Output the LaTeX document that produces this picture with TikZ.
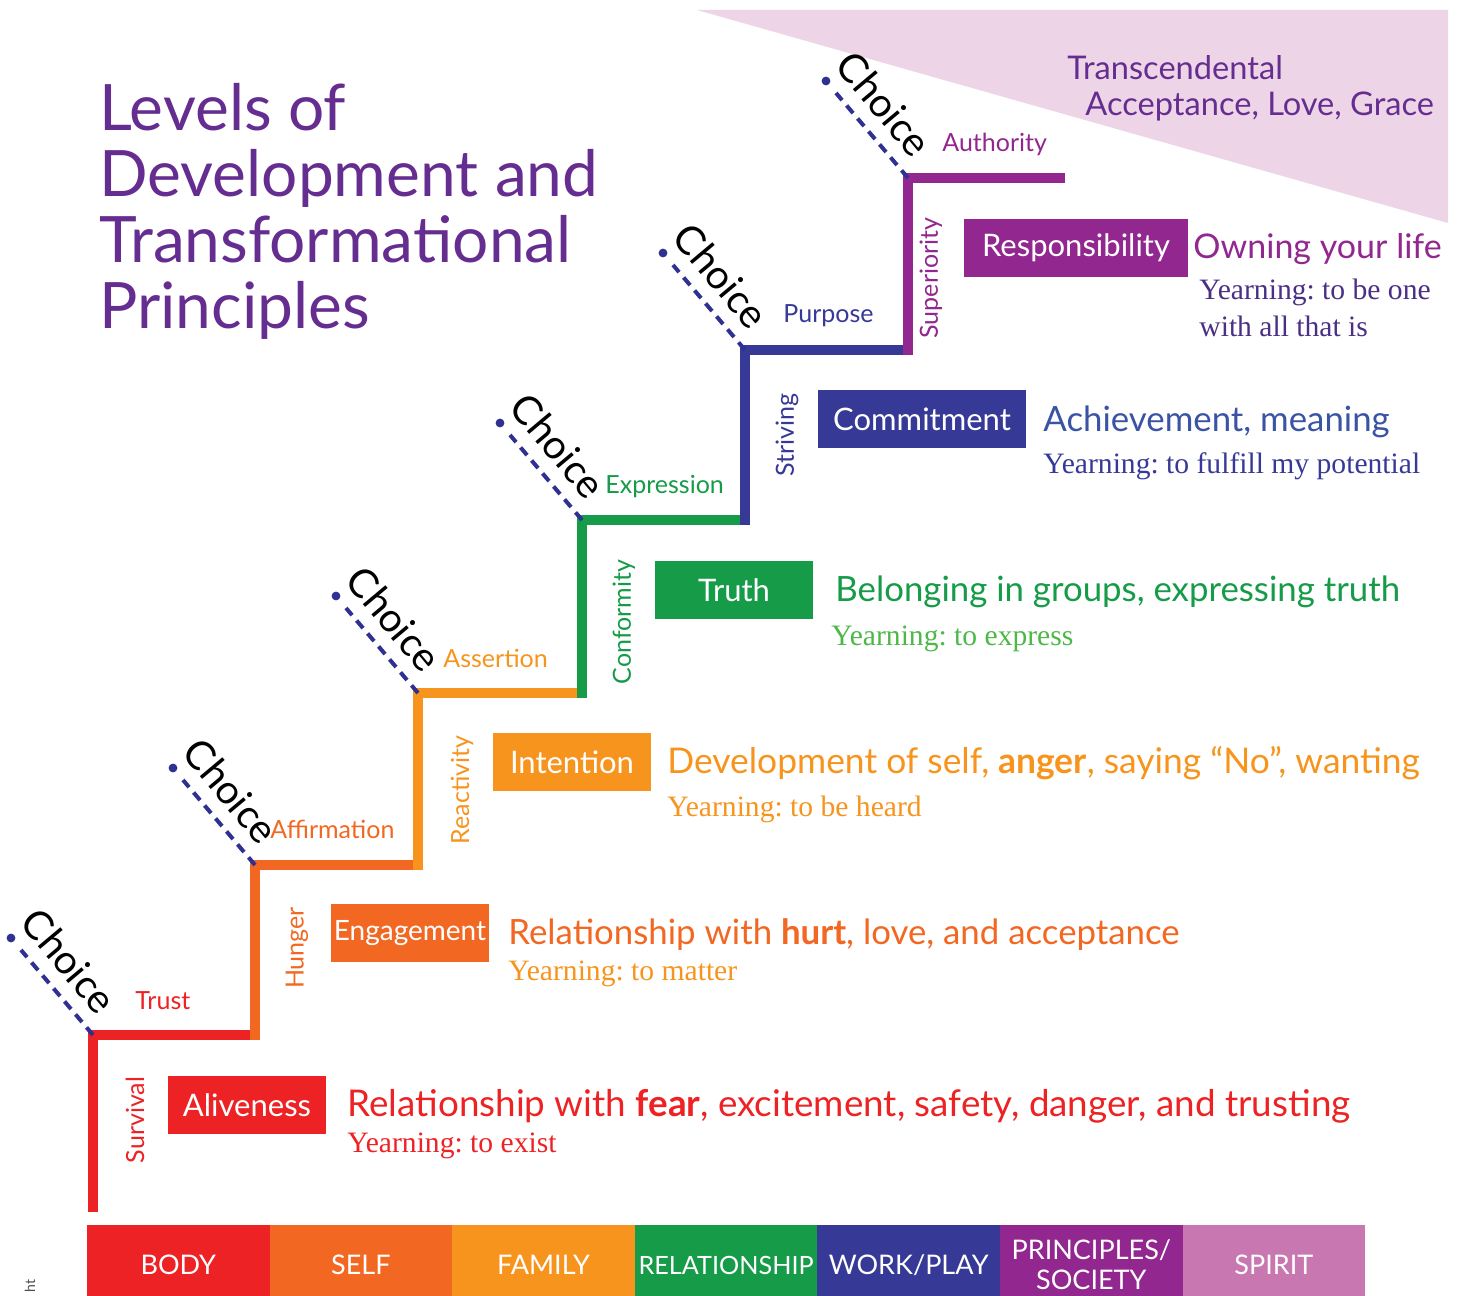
\documentclass[tikz,border=0pt]{standalone}
\usepackage{fontspec}
\setmainfont{Lato}
\newfontfamily\yearnfont{Liberation Serif}
\usetikzlibrary{positioning}

\definecolor{bodyred}{HTML}{ED2224}
\definecolor{selforange}{HTML}{F26722}
\definecolor{familyamber}{HTML}{F7941D}
\definecolor{relgreen}{HTML}{169B48}
\definecolor{yearngreen}{HTML}{4DB848}
\definecolor{worknavy}{HTML}{363996}
\definecolor{achieveblue}{HTML}{3A53A4}
\definecolor{princpurple}{HTML}{92278F}
\definecolor{spiritpink}{HTML}{C877B1}
\definecolor{gracepink}{HTML}{EDD5E7}
\definecolor{titlepurple}{HTML}{662D91}
\definecolor{yearnpurple}{HTML}{4B2F85}
\definecolor{choicenavy}{HTML}{2E3192}

\tikzset{
  stair/.style={line width=5pt, line cap=butt, line join=miter},
  titleline/.style={font=\fontsize{32}{34}\selectfont, text=titlepurple, anchor=base west, inner sep=0pt},
  gracetext/.style={font=\fontsize{16.3}{18}\selectfont, text=titlepurple, anchor=base west, inner sep=0pt},
  levellabel/.style={font=\fontsize{12.5}{14}\selectfont, anchor=west, inner sep=0pt},
  sidelabel/.style={font=\fontsize{12.5}{14}\selectfont, rotate=90, inner sep=0pt},
  stagebox/.style={fill=#1, text=white, minimum width=79pt, minimum height=29pt, inner sep=0pt, font=\fontsize{15.5}{18}\selectfont},
  desc/.style={font=\fontsize{17.4}{20}\selectfont, anchor=base west, inner sep=0pt},
  yearn/.style={font=\yearnfont\fontsize{14.8}{16}\selectfont\frenchspacing, anchor=base west, inner sep=0pt},
  choicetxt/.style={font=\fontsize{20}{24}\selectfont, rotate=-50, inner sep=0pt},
  choiceline/.style={draw=choicenavy, dash pattern=on 5pt off 3.5pt, line width=2pt},
  barcell/.style={fill=#1, text=white, text width=91.3pt, align=center, minimum height=40pt, inner sep=0pt, outer sep=0pt, font=\fontsize{13.5}{15}\selectfont}
}

\begin{document}
\begin{tikzpicture}[x=0.5pt, y=-0.5pt]

    \useasboundingbox (0,0) rectangle (1460,1295);

    % Transcendental wedge in the top right corner
    \fill[gracepink] (697,10) -- (1448,10) -- (1448,223) -- cycle;
    \node[gracetext] (trans) at (1067,80) {Transcendental};
    \node[gracetext] (grace) at (1085,115) {Acceptance, Love, Grace};

    % Title
    \node[titleline] (title1) at (99,130) {Levels of};
    \node[titleline] (title2) at (99,196) {Development and};
    \node[titleline] (title3) at (99,262) {Transformational};
    \node[titleline] (title4) at (99,328) {Principles};

    % Corners of the staircase
    \coordinate (c1) at (93,1035);
    \coordinate (c2) at (255,865);
    \coordinate (c3) at (418,693);
    \coordinate (c4) at (582,520);
    \coordinate (c5) at (745,350);
    \coordinate (c6) at (908,178);

    % Stairs, one colour per level
    \draw[stair, bodyred] (93,1212) -- (c1) -- (c2 |- c1);
    \draw[stair, selforange] (255,1040) -- (c2) -- (c3 |- c2);
    \draw[stair, familyamber] (418,870) -- (c3) -- (c4 |- c3);
    \draw[stair, relgreen] (582,698) -- (c4) -- (c5 |- c4);
    \draw[stair, worknavy] (745,525) -- (c5) -- (c6 |- c5);
    \draw[stair, princpurple] (908,355) -- (c6) -- (1065,178);

    % Choice markers at every corner
    \draw[choiceline] (c1) -- ++(-72,-85);
    \fill[choicenavy] (c1) ++(-82,-97) circle (2.2pt);
    \path (c1) ++(-24,-74) node[choicetxt] (choice1) {Choice};
    \draw[choiceline] (c2) -- ++(-72,-85);
    \fill[choicenavy] (c2) ++(-82,-97) circle (2.2pt);
    \path (c2) ++(-24,-74) node[choicetxt] (choice2) {Choice};
    \draw[choiceline] (c3) -- ++(-72,-85);
    \fill[choicenavy] (c3) ++(-82,-97) circle (2.2pt);
    \path (c3) ++(-24,-74) node[choicetxt] (choice3) {Choice};
    \draw[choiceline] (c4) -- ++(-72,-85);
    \fill[choicenavy] (c4) ++(-82,-97) circle (2.2pt);
    \path (c4) ++(-24,-74) node[choicetxt] (choice4) {Choice};
    \draw[choiceline] (c5) -- ++(-72,-85);
    \fill[choicenavy] (c5) ++(-82,-97) circle (2.2pt);
    \path (c5) ++(-24,-74) node[choicetxt] (choice5) {Choice};
    \draw[choiceline] (c6) -- ++(-72,-85);
    \fill[choicenavy] (c6) ++(-82,-97) circle (2.2pt);
    \path (c6) ++(-24,-74) node[choicetxt] (choice6) {Choice};

    % Labels on the treads
    \node[levellabel, text=bodyred] (trust) at (135,1001) {Trust};
    \node[levellabel, text=selforange] (affirm) at (270,829) {Affirmation};
    \node[levellabel, text=familyamber] (assert) at (443,658) {Assertion};
    \node[levellabel, text=relgreen] (express) at (605,487) {Expression};
    \node[levellabel, text=worknavy] (purpose) at (783,316) {Purpose};
    \node[levellabel, text=princpurple] (authority) at (942,144) {Authority};

    % Labels on the risers
    \node[sidelabel, text=bodyred] (survival) at (135,1120) {Survival};
    \node[sidelabel, text=selforange] (hunger) at (297,948) {Hunger};
    \node[sidelabel, text=familyamber] (react) at (462,790) {Reactivity};
    \node[sidelabel, text=relgreen] (conform) at (624,622) {Conformity};
    \node[sidelabel, text=worknavy] (striving) at (787,435) {Striving};
    \node[sidelabel, text=princpurple] (superior) at (931,278) {Superiority};

    % Principle boxes
    \node[stagebox=bodyred] (alive) at (247,1105) {Aliveness};
    \node[stagebox=selforange, font=\fontsize{14}{16}\selectfont] (engage) at (410,933) {Engagement};
    \node[stagebox=familyamber] (intent) at (572,762) {Intention};
    \node[stagebox=relgreen] (truth) at (734,590) {Truth};
    \node[stagebox=worknavy, minimum width=104pt] (commit) at (922,419) {Commitment};
    \node[stagebox=princpurple, minimum width=112pt] (respons) at (1076,248) {Responsibility};

    % What each level is about
    \node[desc, text=bodyred, font=\fontsize{18.4}{20}\selectfont] (fear) at (347,1116) {Relationship with \textbf{fear}, excitement, safety, danger, and trusting};
    \node[yearn, text=bodyred] (exist) at (347,1152) {Yearning: to exist};
    \node[desc, text=selforange] (hurt) at (508,944) {Relationship with \textbf{hurt}, love, and acceptance};
    \node[yearn, text=familyamber] (matter) at (508,980) {Yearning: to matter};
    \node[desc, text=familyamber, font=\fontsize{17.7}{20}\selectfont] (anger) at (667,773) {Development of self, \textbf{anger}, saying “No”, wanting};
    \node[yearn, text=familyamber] (heard) at (667,816) {Yearning: to be heard};
    \node[desc, text=relgreen] (belong) at (835,601) {Belonging in groups, expressing truth};
    \node[yearn, text=yearngreen] (expressy) at (831,645) {Yearning: to express};
    \node[desc, text=achieveblue] (achieve) at (1043,431) {Achievement, meaning};
    \node[yearn, text=worknavy] (fulfill) at (1043,473) {Yearning: to fulfill my potential};
    \node[desc, text=princpurple, font=\fontsize{17}{20}\selectfont] (owning) at (1193,258) {Owning your life};
    \node[yearn, text=yearnpurple] (beone) at (1199,299) {Yearning: to be one};
    \node[yearn, text=yearnpurple] (allthat) at (1199,336) {with all that is};

    % Bottom bar of life areas
    \node[barcell=bodyred, anchor=north west] (body) at (87,1225) {BODY};
    \node[barcell=selforange, right=0pt of body] (self) {SELF};
    \node[barcell=familyamber, right=0pt of self] (family) {FAMILY};
    \node[barcell=relgreen, right=0pt of family, font=\fontsize{12.6}{15}\selectfont] (relation) {RELATIONSHIP};
    \node[barcell=worknavy, right=0pt of relation] (work) {WORK/PLAY};
    \node[barcell=princpurple, right=0pt of work] (society) {PRINCIPLES/\\SOCIETY};
    \node[barcell=spiritpink, right=0pt of society] (spirit) {SPIRIT};

    % Cut off margin note
    \node[font=\fontsize{7}{8}\selectfont, text=black!70, rotate=90, inner sep=0pt] (note) at (30,1286) {ht};

\end{tikzpicture}
\end{document}
